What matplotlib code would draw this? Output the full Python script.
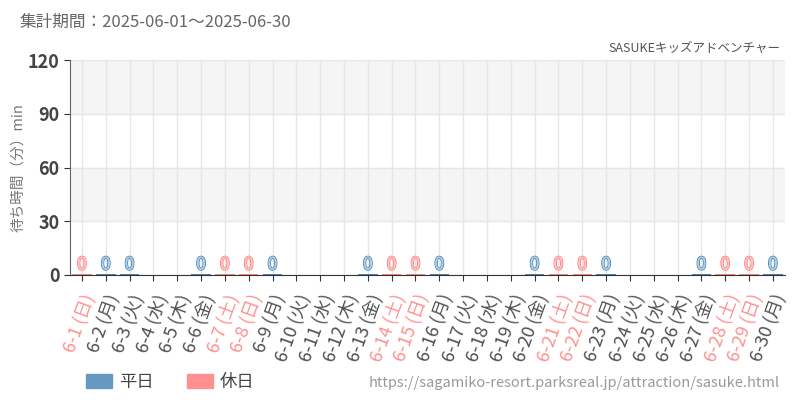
import matplotlib
matplotlib.use("Agg")
import matplotlib.pyplot as plt
import matplotlib.patheffects as pe
from matplotlib.patches import Patch

plt.rcParams['font.family'] = ['Noto Sans CJK JP', 'DejaVu Sans']

days = ['6-%d' % d for d in range(1, 31)]
weekdays = ['日', '月', '火', '水', '木', '金', '土'] * 5
weekdays = weekdays[:30]
holiday = [w in ('土', '日') for w in weekdays]
# None = no data that day
waits = [0, 0, 0, None, None, 0, 0, 0, 0, None,
         None, None, 0, 0, 0, 0, None, None, None, 0,
         0, 0, 0, None, None, None, 0, 0, 0, 0]

BLUE = '#4a86b8'
PINK = '#ff8080'
BLUE_L = '#6699c2'
PINK_L = '#ff9090'

fig = plt.figure(figsize=(8, 4), dpi=100)
ax = fig.add_axes([0.0875, 0.3125, 0.8935, 0.5375])

x = list(range(len(days)))
for i, v in enumerate(waits):
    if v is None:
        continue
    c = PINK if holiday[i] else BLUE
    fill = '#ffc4c4' if holiday[i] else '#b4cfe6'
    ax.bar(i, max(v, 0.6), width=0.82, color=c)
    ax.text(i, v + 0.8, str(v), ha='center', va='bottom', fontsize=12.5, color=fill,
            path_effects=[pe.withStroke(linewidth=1.3, foreground=c), pe.Normal()])

ax.set_xlim(-0.5, 29.5)
ax.set_ylim(0, 120)
ax.set_yticks([0, 30, 60, 90, 120])
for lo, hi in [(30, 60), (90, 120)]:
    ax.axhspan(lo, hi, color='#f5f5f5', zorder=0)
ax.set_axisbelow(True)
ax.grid(True, color='#e6e6e6', linewidth=1)
ax.set_xticks(x)
ax.set_xticklabels(['%s (%s)' % (d, w) for d, w in zip(days, weekdays)],
                   rotation=70, ha='right', rotation_mode='anchor', fontsize=13)
for lbl, h in zip(ax.get_xticklabels(), holiday):
    lbl.set_color(PINK_L if h else '#505050')
ax.tick_params(axis='y', labelsize=13, length=4, color='#333333')
ax.tick_params(axis='x', length=4, color='#333333', pad=8)
for lbl in ax.get_yticklabels():
    lbl.set_fontweight('bold')
    lbl.set_color('#444444')
ax.spines['top'].set_visible(False)
ax.spines['right'].set_visible(False)
ax.spines['left'].set_color('#666666')
ax.spines['bottom'].set_color('#333333')
ax.set_ylabel('待ち時間（分）min', fontsize=10.5, color='#777777', labelpad=2)

fig.text(0.025, 0.945, '集計期間：2025-06-01～2025-06-30', fontsize=12, color='#666666',
         va='center')
fig.text(0.975, 0.88, 'SASUKEキッズアドベンチャー', fontsize=9, color='#555555',
         ha='right', va='center')
fig.text(0.975, 0.042, 'https://sagamiko-resort.parksreal.jp/attraction/sasuke.html',
         fontsize=10.5, color='#999999', ha='right', va='center')

handles = [Patch(color=BLUE_L), Patch(color=PINK_L)]
fig.legend(handles, ['平日', '休日'], loc='center left', bbox_to_anchor=(0.088, 0.045),
           ncol=2, frameon=False, fontsize=12.5, handlelength=1.5, handleheight=0.9,
           handletextpad=0.4, columnspacing=1.9, labelcolor='#444444')

fig.savefig('out.png', dpi=100)
